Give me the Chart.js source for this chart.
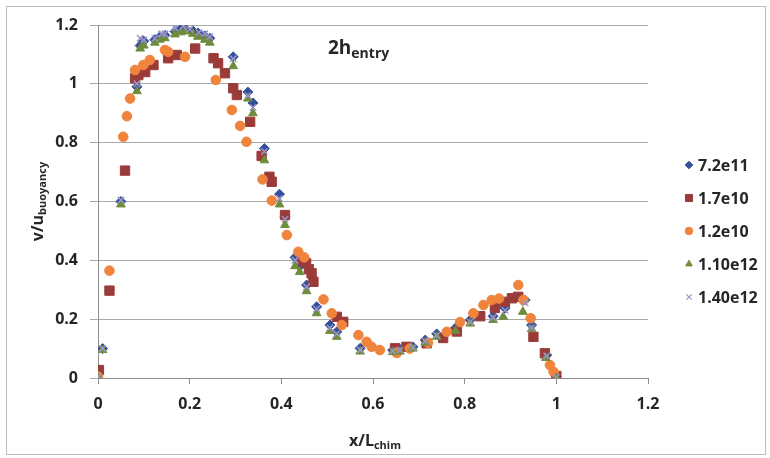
<!DOCTYPE html>
<html>
<head>
<meta charset="utf-8">
<script src="https://cdn.jsdelivr.net/npm/chart.js@4.4.1/dist/chart.umd.min.js"></script>
<style>
  html, body { margin: 0; padding: 0; background: #fff; }
  #wrap { width: 770px; height: 458px; position: relative; }
</style>
</head>
<body>
<div id="wrap"><canvas id="c" width="770" height="458"></canvas></div>
<script>
// Vertical velocity profiles across the chimney, one series per Rayleigh number
const seriesLabels = ['7.2e11', '1.7e10', '1.2e10', '1.10e12', '1.40e12'];

const ra72e11 = [
  [0,0],[0.01,0.1],[0.05,0.6],[0.085,0.99],[0.092,1.13],[0.1,1.145],[0.124,1.15],[0.135,1.16],
  [0.146,1.165],[0.168,1.178],[0.18,1.185],[0.19,1.188],[0.207,1.18],[0.218,1.173],[0.233,1.163],
  [0.244,1.155],[0.295,1.092],[0.327,0.972],[0.338,0.935],[0.363,0.78],[0.396,0.625],[0.408,0.55],
  [0.43,0.41],[0.44,0.38],[0.455,0.316],[0.477,0.242],[0.506,0.18],[0.521,0.157],[0.572,0.101],
  [0.643,0.095],[0.659,0.097],[0.687,0.106],[0.714,0.129],[0.739,0.15],[0.78,0.17],[0.812,0.197],
  [0.862,0.21],[0.888,0.238],[0.932,0.265],[0.946,0.18],[0.979,0.078],[1.0,0.004]
];

const ra17e10 = [
  [0.002,0.027],[0.025,0.297],[0.059,0.705],[0.081,1.019],[0.088,1.03],[0.103,1.04],[0.121,1.064],
  [0.153,1.087],[0.172,1.098],[0.212,1.12],[0.252,1.087],[0.262,1.07],[0.277,1.036],[0.295,0.985],
  [0.303,0.962],[0.332,0.871],[0.357,0.755],[0.374,0.684],[0.379,0.667],[0.408,0.554],[0.445,0.4],
  [0.454,0.39],[0.46,0.37],[0.466,0.356],[0.47,0.327],[0.521,0.208],[0.535,0.191],[0.648,0.101],
  [0.673,0.106],[0.717,0.118],[0.753,0.136],[0.783,0.158],[0.834,0.21],[0.866,0.238],[0.888,0.259],
  [0.903,0.271],[0.917,0.276],[0.95,0.14],[0.975,0.084],[1.0,0.007]
];

const ra12e10 = [
  [0,0.005],[0.025,0.365],[0.055,0.82],[0.063,0.89],[0.07,0.95],[0.081,1.047],[0.099,1.064],
  [0.113,1.081],[0.146,1.115],[0.153,1.109],[0.19,1.092],[0.257,1.013],[0.292,0.911],[0.31,0.857],
  [0.324,0.803],[0.359,0.675],[0.379,0.603],[0.412,0.486],[0.437,0.429],[0.45,0.41],[0.492,0.267],
  [0.51,0.22],[0.532,0.18],[0.568,0.146],[0.586,0.123],[0.597,0.106],[0.615,0.095],[0.652,0.085],
  [0.68,0.1],[0.72,0.12],[0.761,0.157],[0.79,0.19],[0.819,0.22],[0.841,0.248],[0.859,0.265],
  [0.875,0.27],[0.917,0.316],[0.928,0.265],[0.944,0.203],[0.986,0.044],[0.994,0.021]
];

const ra110e12 = [
  [0,0],[0.01,0.095],[0.05,0.59],[0.085,0.975],[0.092,1.12],[0.1,1.13],[0.124,1.14],[0.135,1.15],
  [0.146,1.155],[0.168,1.168],[0.18,1.175],[0.19,1.178],[0.207,1.17],[0.218,1.16],[0.233,1.15],
  [0.244,1.14],[0.295,1.06],[0.327,0.95],[0.338,0.9],[0.363,0.74],[0.396,0.59],[0.408,0.52],
  [0.43,0.38],[0.44,0.36],[0.455,0.295],[0.477,0.22],[0.506,0.16],[0.521,0.14],[0.572,0.09],
  [0.643,0.088],[0.659,0.09],[0.687,0.1],[0.714,0.12],[0.739,0.14],[0.78,0.16],[0.812,0.185],
  [0.862,0.197],[0.884,0.208],[0.927,0.225],[0.946,0.166],[0.977,0.068],[1.0,0.0]
];

const ra140e12 = [
  [0,0.005],[0.01,0.1],[0.05,0.605],[0.085,1.0],[0.092,1.155],[0.1,1.15],[0.124,1.155],[0.139,1.17],
  [0.146,1.17],[0.168,1.19],[0.186,1.195],[0.2,1.185],[0.22,1.175],[0.233,1.17],[0.244,1.16],
  [0.295,1.085],[0.327,0.96],[0.338,0.92],[0.363,0.77],[0.396,0.61],[0.408,0.54],[0.43,0.4],
  [0.455,0.31],[0.477,0.235],[0.506,0.17],[0.521,0.15],[0.572,0.095],[0.643,0.092],[0.659,0.095],
  [0.687,0.103],[0.714,0.125],[0.739,0.145],[0.812,0.19],[0.862,0.205],[0.888,0.23],[0.932,0.255],
  [0.946,0.17],[0.979,0.075],[1.0,0.003]
];

const xTicks = [0, 0.2, 0.4, 0.6, 0.8, 1, 1.2];
const yTicks = [0, 0.2, 0.4, 0.6, 0.8, 1, 1.2];

const FONT = '"Open Sans", "Noto Sans", "Liberation Sans", sans-serif';
const TEXT = '#262626';

const toPoints = arr => arr.map(([x, y]) => ({ x, y }));

const styles = [
  { pointStyle: 'rectRot',  radius: 5,   bg: '#34509c', border: '#34509c', order: 5 },
  { pointStyle: 'rect',     radius: 6.6, bg: '#9a3b3a', border: '#9a3b3a', order: 4 },
  { pointStyle: 'circle',   radius: 4.8, bg: '#f0843c', border: '#f0843c', order: 3 },
  { pointStyle: 'triangle', radius: 5,   bg: '#6f8b3c', border: '#6f8b3c', order: 2 },
  { pointStyle: 'crossRot', radius: 4.5, bg: '#9c95c6', border: '#9c95c6', order: 1 }
];
const seriesData = [ra72e11, ra17e10, ra12e10, ra110e12, ra140e12];

const datasets = seriesData.map((d, i) => ({
  label: seriesLabels[i],
  data: toPoints(d),
  pointStyle: styles[i].pointStyle,
  pointRadius: styles[i].radius,
  pointHoverRadius: styles[i].radius,
  backgroundColor: styles[i].bg,
  borderColor: styles[i].border,
  pointBorderWidth: styles[i].pointStyle === 'crossRot' ? 1.5 : 1,
  showLine: false,
  order: styles[i].order
}));

// Text with a subscript part, drawn left to right from (x, baseline)
function drawSubText(ctx, main, sub, mainSize, subSize, subDrop) {
  ctx.font = 'bold ' + mainSize + 'px ' + FONT;
  const w1 = ctx.measureText(main).width;
  ctx.font = 'bold ' + subSize + 'px ' + FONT;
  const w2 = ctx.measureText(sub).width;
  return { w: w1 + w2, draw(x, y) {
    ctx.textBaseline = 'alphabetic';
    ctx.textAlign = 'left';
    ctx.font = 'bold ' + mainSize + 'px ' + FONT;
    ctx.fillText(main, x, y);
    ctx.font = 'bold ' + subSize + 'px ' + FONT;
    ctx.fillText(sub, x + w1, y + subDrop);
  } };
}

const decorPlugin = {
  id: 'decor',
  beforeDraw(chart) {
    const ctx = chart.ctx;
    ctx.save();
    ctx.fillStyle = '#ffffff';
    ctx.fillRect(0, 0, chart.width, chart.height);
    ctx.strokeStyle = '#bdbdbd';
    ctx.lineWidth = 1;
    ctx.strokeRect(6.5, 6.5, 759, 448);
    ctx.restore();
  },
  afterDraw(chart) {
    const ctx = chart.ctx;
    const area = chart.chartArea;
    ctx.save();
    ctx.fillStyle = TEXT;

    // annotation inside the plot
    const t = drawSubText(ctx, '2h', 'entry', 19, 14, 4);
    t.draw(328, 54);

    // x-axis title
    const xt = drawSubText(ctx, 'x/L', 'chim', 16, 11, 3);
    xt.draw(375 - xt.w / 2, 446);

    // y-axis title, rotated
    const yt = drawSubText(ctx, 'v/u', 'buoyancy', 16, 11, 3);
    ctx.save();
    ctx.setTransform(0, -1, 1, 0, 43, (area.top + area.bottom) / 2);
    yt.draw(-yt.w / 2, 0);
    ctx.restore();

    // legend
    const lx = 689, tx = 698;
    const ly = [165, 198, 231, 264, 297];
    chart.data.datasets.forEach((ds, i) => {
      ctx.fillStyle = ds.backgroundColor;
      ctx.strokeStyle = ds.borderColor;
      ctx.lineWidth = ds.pointStyle === 'crossRot' ? 1.2 : 1;
      Chart.helpers.drawPoint(ctx, {
        pointStyle: ds.pointStyle,
        radius: ds.pointStyle === 'rect' ? 5 : 3.8,
        rotation: 0,
        borderWidth: ctx.lineWidth
      }, lx, ly[i]);
      ctx.fillStyle = TEXT;
      ctx.font = 'bold 16px ' + FONT;
      ctx.textAlign = 'left';
      ctx.textBaseline = 'middle';
      ctx.fillText(ds.label, tx, ly[i] + 1);
    });
    ctx.restore();
  }
};

const fmt = v => String(+Number(v).toFixed(1));

new Chart(document.getElementById('c'), {
  type: 'scatter',
  data: { datasets },
  options: {
    responsive: false,
    animation: false,
    devicePixelRatio: 1,
    layout: { padding: { top: 25, right: 122, left: 0, bottom: 0 } },
    plugins: { legend: { display: false }, tooltip: { enabled: false } },
    scales: {
      x: {
        type: 'linear',
        min: xTicks[0], max: xTicks[xTicks.length - 1],
        afterBuildTicks: s => { s.ticks = xTicks.map(v => ({ value: v })); },
        afterFit: s => { s.height = 80; },
        grid: { drawOnChartArea: false, drawTicks: true, tickLength: 6, color: '#8c8c8c' },
        border: { color: '#8c8c8c', width: 1 },
        ticks: { callback: fmt, color: TEXT, font: { family: FONT, size: 16, weight: 'bold' }, padding: 11, maxRotation: 0 }
      },
      y: {
        type: 'linear',
        min: yTicks[0], max: yTicks[yTicks.length - 1],
        afterBuildTicks: s => { s.ticks = yTicks.map(v => ({ value: v })); },
        afterFit: s => { s.width = 98; },
        grid: { drawTicks: true, tickLength: 8, color: '#a9a9a9' },
        border: { color: '#8c8c8c', width: 1 },
        ticks: { callback: fmt, color: TEXT, font: { family: FONT, size: 16, weight: 'bold' }, padding: 12 }
      }
    }
  },
  plugins: [decorPlugin]
});
</script>
</body>
</html>
